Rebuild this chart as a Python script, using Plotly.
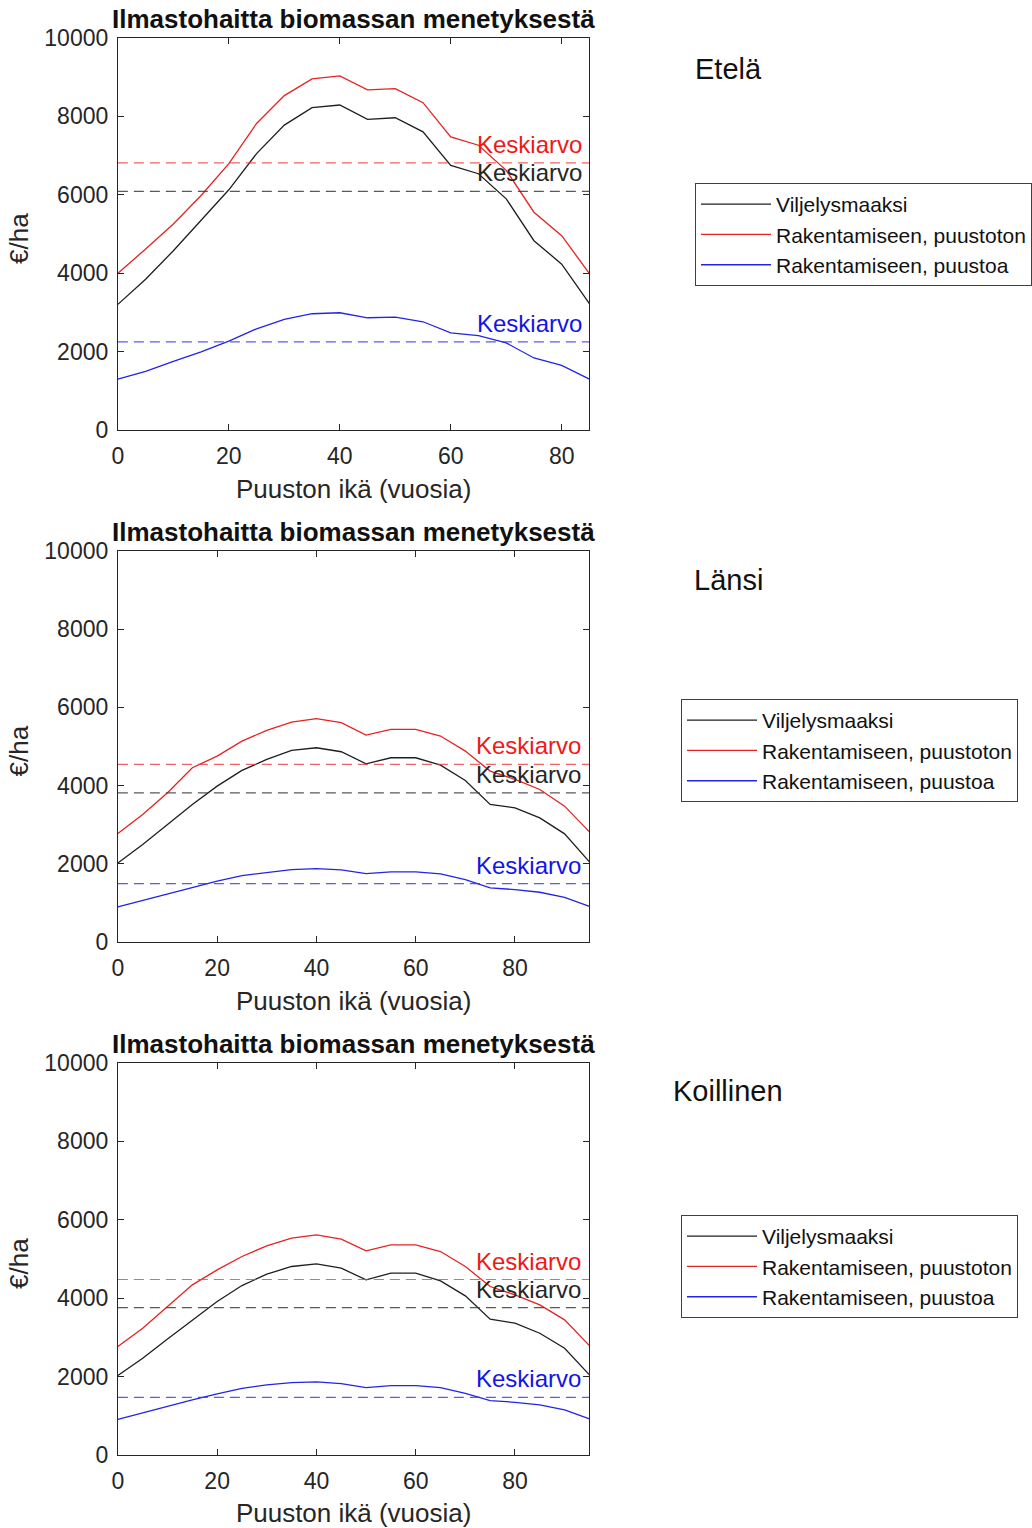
import plotly.graph_objects as go

# Stand age (years) per region
age_etela = [0, 5, 10, 15, 20, 25, 30, 35, 40, 45, 50, 55, 60, 65, 70, 75, 80, 85]
age_lansi = [0, 5, 10, 15, 20, 25, 30, 35, 40, 45, 50, 55, 60, 65, 70, 75, 80, 85, 90, 95]
age_koillinen = [0, 5, 10, 15, 20, 25, 30, 35, 40, 45, 50, 55, 60, 65, 70, 75, 80, 85, 90, 95]

# Climate damage (€/ha) from biomass loss – Etelä
etela_viljely = [3205, 3846, 4573, 5342, 6128, 7051, 7778, 8222, 8291, 7923, 7966, 7607,
                 6752, 6538, 5897, 4829, 4231, 3222]
etela_puustoton = [4000, 4615, 5256, 5983, 6795, 7820, 8530, 8957, 9034, 8675, 8709, 8350,
                   7479, 7265, 6624, 5556, 4957, 3991]
etela_puustoa = [1299, 1496, 1752, 1991, 2265, 2581, 2821, 2966, 2991, 2863, 2880, 2761,
                 2479, 2410, 2222, 1838, 1650, 1299]

# Länsi
lansi_viljely = [2023, 2493, 3005, 3517, 3986, 4388, 4669, 4900, 4968, 4866, 4558, 4712,
                 4712, 4524, 4131, 3517, 3432, 3175, 2766, 2049]
lansi_puustoton = [2774, 3261, 3816, 4456, 4755, 5139, 5412, 5625, 5711, 5608, 5292, 5437,
                   5437, 5267, 4883, 4370, 4157, 3901, 3474, 2817]
lansi_puustoa = [896, 1058, 1229, 1400, 1554, 1699, 1784, 1852, 1878, 1844, 1750, 1793,
                 1793, 1741, 1596, 1383, 1340, 1272, 1144, 913]

# Koillinen
koillinen_viljely = [2026, 2468, 2962, 3447, 3915, 4323, 4613, 4809, 4877, 4766, 4468, 4638,
                     4638, 4443, 4060, 3464, 3362, 3106, 2723, 2043]
koillinen_puustoton = [2766, 3234, 3787, 4340, 4723, 5064, 5336, 5532, 5617, 5506, 5209, 5362,
                       5362, 5191, 4809, 4298, 4085, 3830, 3447, 2791]
koillinen_puustoa = [911, 1081, 1251, 1404, 1557, 1702, 1787, 1847, 1864, 1821, 1719, 1770,
                     1770, 1719, 1574, 1387, 1345, 1277, 1149, 919]

# Averages (Keskiarvo) per series: [viljely, puustoton, puustoa]
etela_mean = [6085, 6812, 2248]
lansi_mean = [3816, 4541, 1494]
koillinen_mean = [3762, 4477, 1472]

series_names = ["Viljelysmaaksi", "Rakentamiseen, puustoton", "Rakentamiseen, puustoa"]
region_names = ["Etelä", "Länsi", "Koillinen"]
panel_title = "Ilmastohaitta biomassan menetyksestä"
x_title = "Puuston ikä (vuosia)"
y_title = "€/ha"
y_ticks = [0, 2000, 4000, 6000, 8000, 10000]
y_ticklabels = ["0", "2000", "4000", "6000", "8000", "10000"]
x_ticks = [0, 20, 40, 60, 80]

FONT = "Liberation Sans, Arial, sans-serif"
AX = "#262626"
line_colors = ["#1f1f1f", "#e62222", "#2424e6"]
mean_colors = ["rgba(60,60,60,0.85)", "rgba(235,60,60,0.8)", "rgba(50,50,230,0.8)"]
label_colors = ["#262626", "#f01818", "#1414e6"]

W, H = 1032, 1528
left_px, right_px = 118, 590
# (top, bottom) pixel rows of each plot area
rows_px = [(38, 430), (551, 942), (1063, 1455)]
legend_pos = [(696, 183), (681, 699), (681, 1215)]
region_label_y = [69, 580, 1091]

panels = [
    (age_etela, [etela_viljely, etela_puustoton, etela_puustoa], etela_mean, 85),
    (age_lansi, [lansi_viljely, lansi_puustoton, lansi_puustoa], lansi_mean, 95),
    (age_koillinen, [koillinen_viljely, koillinen_puustoton, koillinen_puustoa], koillinen_mean, 95),
]

fig = go.Figure()
annotations = []
layout = {}

for i, (ages, vals, means, xmax) in enumerate(panels):
    n = "" if i == 0 else str(i + 1)
    xa, ya = "x" + n, "y" + n
    leg = "legend" + n
    top, bot = rows_px[i]
    dom_y = [1 - bot / H, 1 - top / H]

    for k in range(3):
        fig.add_trace(go.Scatter(
            x=ages, y=vals[k], mode="lines", name=series_names[k],
            line=dict(color=line_colors[k], width=1.3),
            xaxis=xa, yaxis=ya, legend=leg, showlegend=True,
        ))
    for k in range(3):
        fig.add_trace(go.Scatter(
            x=[0, xmax], y=[means[k], means[k]], mode="lines",
            line=dict(color=mean_colors[k], width=1.2, dash="10px,6px"),
            xaxis=xa, yaxis=ya, showlegend=False, hoverinfo="skip",
        ))
        annotations.append(dict(
            x=xmax - 1.6 if xmax == 85 else xmax - 2.0, y=means[k], xref=xa, yref=ya,
            text="Keskiarvo", showarrow=False, xanchor="right", yanchor="bottom",
            xshift=3, yshift=3, font=dict(family=FONT, size=24, color=label_colors[k]),
        ))

    axis_common = dict(
        showline=True, linecolor=AX, linewidth=1, mirror="ticks",
        ticks="inside", ticklen=6, tickcolor=AX, showgrid=False, zeroline=False,
        tickfont=dict(family=FONT, size=23, color=AX), automargin=False,
    )
    layout["xaxis" + n] = dict(
        axis_common, domain=[left_px / W, right_px / W], range=[0, xmax],
        tickvals=x_ticks, anchor=ya, ticklabelstandoff=5,
        title=dict(text=x_title, font=dict(family=FONT, size=26, color=AX), standoff=12),
    )
    layout["yaxis" + n] = dict(
        axis_common, domain=dom_y, range=[0, 10000], tickvals=y_ticks,
        ticktext=y_ticklabels, anchor=xa, ticklabelstandoff=4,
    )

    # y-axis title, rotated, to the left of the tick labels
    annotations.append(dict(
        x=19 / W, y=1 - ((top + bot) / 2 + 4) / H, xref="paper", yref="paper",
        text=y_title, textangle=-90, showarrow=False, xanchor="center", yanchor="middle",
        font=dict(family=FONT, size=26, color=AX),
    ))

    lx, ly = legend_pos[i]
    layout[leg] = dict(
        x=lx / W, y=1 - ly / H, xanchor="left", yanchor="top", xref="paper", yref="paper",
        bgcolor="white", bordercolor="#404040", borderwidth=1,
        font=dict(family=FONT, size=21, color="#111111"), itemwidth=70,
        tracegroupgap=0,
    )

    annotations.append(dict(
        x=(left_px + right_px) / 2 / W, y=1 - (top - 2) / H, xref="paper", yref="paper",
        text="<b>" + panel_title + "</b>", showarrow=False, xanchor="center", yanchor="bottom",
        font=dict(family=FONT, size=26, color="#111111"),
    ))
    annotations.append(dict(
        x=729 / W, y=1 - region_label_y[i] / H, xref="paper", yref="paper",
        text=region_names[i], showarrow=False, xanchor="center", yanchor="middle",
        font=dict(family=FONT, size=29, color="#111111"),
    ))

fig.update_layout(
    width=W, height=H, margin=dict(l=0, r=0, t=0, b=0),
    paper_bgcolor="white", plot_bgcolor="white",
    annotations=annotations, **layout,
)

fig.write_html("out.html")
